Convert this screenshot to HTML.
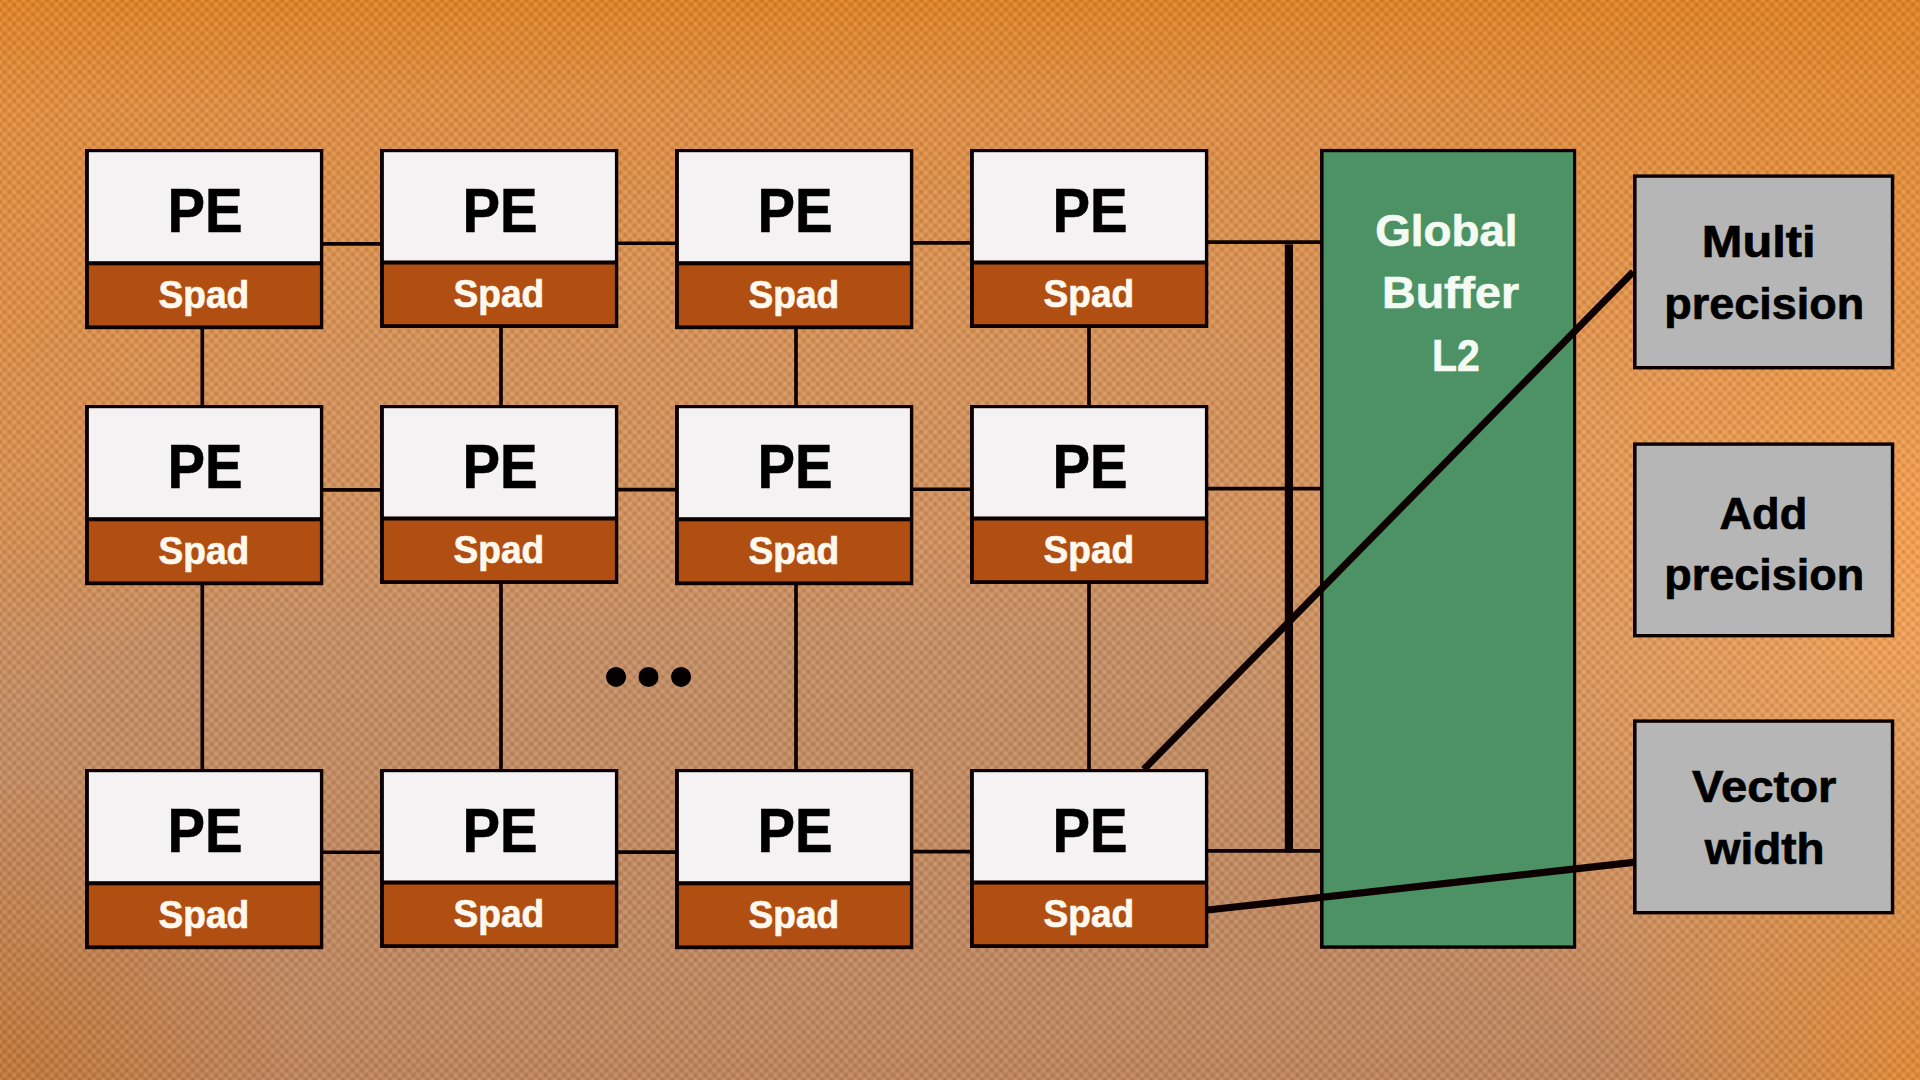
<!DOCTYPE html>
<html lang="en">
<head>
<meta charset="utf-8">
<title>PE array with Global Buffer L2</title>
<style>
html,body{margin:0;padding:0;}
body{width:1920px;height:1080px;overflow:hidden;background:#CC8E5C;}
svg{display:block;position:absolute;left:0;top:0;}
text{font-family:"Liberation Sans", sans-serif;font-weight:700;}
.pe{font-size:63.5px;fill:#000;stroke:#000;stroke-width:0.6px;}
.spad{font-size:39px;fill:#FFF8EE;stroke:#FFF8EE;stroke-width:0.7px;}
.gb{font-size:45px;fill:#F3FBF3;stroke:#F3FBF3;stroke-width:0.7px;}
.lbl{font-size:45px;fill:#000;stroke:#000;stroke-width:0.7px;}
</style>
</head>
<body>
<svg width="1920" height="1080" viewBox="0 0 1920 1080">

<defs>
<linearGradient id="bg" x1="0" y1="0" x2="0" y2="1">
<stop offset="0" stop-color="rgb(222,131,38)"/>
<stop offset="0.096" stop-color="rgb(223,143,68)"/>
<stop offset="0.34" stop-color="rgb(212,147,92)"/>
<stop offset="0.50" stop-color="rgb(207,145,95)"/>
<stop offset="0.60" stop-color="rgb(194,143,104)"/>
<stop offset="0.75" stop-color="rgb(193,139,98)"/>
<stop offset="0.93" stop-color="rgb(189,136,98)"/>
<stop offset="1" stop-color="rgb(188,133,95)"/>
</linearGradient>
<radialGradient id="glowR" gradientUnits="userSpaceOnUse" cx="0" cy="0" r="1" gradientTransform="translate(1990 560) scale(800 560)">
<stop offset="0" stop-color="rgb(252,166,84)" stop-opacity="0.95"/>
<stop offset="1" stop-color="rgb(252,166,84)" stop-opacity="0"/>
</radialGradient>
<radialGradient id="glowTR" gradientUnits="userSpaceOnUse" cx="1920" cy="0" r="600">
<stop offset="0" stop-color="rgb(225,132,35)" stop-opacity="0.6"/>
<stop offset="1" stop-color="rgb(225,132,35)" stop-opacity="0"/>
</radialGradient>
<radialGradient id="glowL" gradientUnits="userSpaceOnUse" cx="0" cy="0" r="1" gradientTransform="translate(-120 330) scale(480 430)">
<stop offset="0" stop-color="rgb(232,138,45)" stop-opacity="0.5"/>
<stop offset="1" stop-color="rgb(232,138,45)" stop-opacity="0"/>
</radialGradient>
<radialGradient id="glowBL" gradientUnits="userSpaceOnUse" cx="0" cy="1080" r="300">
<stop offset="0" stop-color="rgb(193,116,48)" stop-opacity="0.8"/>
<stop offset="1" stop-color="rgb(193,116,48)" stop-opacity="0"/>
</radialGradient>
<radialGradient id="glowBR" gradientUnits="userSpaceOnUse" cx="1920" cy="1080" r="330">
<stop offset="0" stop-color="rgb(230,139,48)" stop-opacity="0.85"/>
<stop offset="1" stop-color="rgb(230,139,48)" stop-opacity="0"/>
</radialGradient>
<radialGradient id="dk">
<stop offset="0" stop-color="rgb(95,35,0)" stop-opacity="0.19"/>
<stop offset="1" stop-color="rgb(95,35,0)" stop-opacity="0"/>
</radialGradient>
<radialGradient id="lt">
<stop offset="0" stop-color="rgb(255,225,190)" stop-opacity="0.17"/>
<stop offset="1" stop-color="rgb(255,225,190)" stop-opacity="0"/>
</radialGradient>
<pattern id="hatch" width="9.4" height="9.6" patternUnits="userSpaceOnUse">
<ellipse rx="3.6" ry="3.0" transform="translate(0 0) rotate(45)" fill="url(#dk)"/>
<ellipse rx="3.6" ry="3.0" transform="translate(9.4 0) rotate(45)" fill="url(#dk)"/>
<ellipse rx="3.6" ry="3.0" transform="translate(0 9.6) rotate(45)" fill="url(#dk)"/>
<ellipse rx="3.6" ry="3.0" transform="translate(9.4 9.6) rotate(45)" fill="url(#dk)"/>
<ellipse rx="3.6" ry="3.0" transform="translate(4.7 4.8) rotate(45)" fill="url(#dk)"/>
<ellipse rx="3.7" ry="3.3" transform="translate(4.7 0) rotate(-45)" fill="url(#lt)"/>
<ellipse rx="3.7" ry="3.3" transform="translate(4.7 9.6) rotate(-45)" fill="url(#lt)"/>
<ellipse rx="3.7" ry="3.3" transform="translate(0 4.8) rotate(-45)" fill="url(#lt)"/>
<ellipse rx="3.7" ry="3.3" transform="translate(9.4 4.8) rotate(-45)" fill="url(#lt)"/>
</pattern>
</defs>
<rect width="1920" height="1080" fill="url(#bg)"/>
<rect width="1920" height="1080" fill="url(#glowR)"/>
<rect width="1920" height="1080" fill="url(#glowTR)"/>
<rect width="1920" height="1080" fill="url(#glowL)"/>
<rect width="1920" height="1080" fill="url(#glowBL)"/>
<rect width="1920" height="1080" fill="url(#glowBR)"/>
<rect width="1920" height="1080" fill="url(#hatch)"/>

<g stroke="#0d0000" stroke-width="3.7" fill="none">
<line x1="323" y1="243.85" x2="380" y2="243.85"/>
<line x1="618" y1="243.25" x2="675" y2="243.25"/>
<line x1="913" y1="242.85" x2="970" y2="242.85"/>
<line x1="1208" y1="242.05" x2="1321" y2="242.05"/>
<line x1="323" y1="489.85" x2="380" y2="489.85"/>
<line x1="618" y1="489.55" x2="675" y2="489.55"/>
<line x1="913" y1="489.25" x2="970" y2="489.25"/>
<line x1="1208" y1="488.55" x2="1321" y2="488.55"/>
<line x1="323" y1="852.25" x2="380" y2="852.25"/>
<line x1="618" y1="852.05" x2="675" y2="852.05"/>
<line x1="913" y1="851.55" x2="970" y2="851.55"/>
<line x1="1208" y1="850.95" x2="1321" y2="850.95"/>
<line x1="202.3" y1="329" x2="202.3" y2="405"/>
<line x1="501" y1="328" x2="501" y2="405"/>
<line x1="796" y1="329" x2="796" y2="405"/>
<line x1="1089" y1="328" x2="1089" y2="405"/>
<line x1="202.3" y1="585" x2="202.3" y2="769"/>
<line x1="501" y1="584" x2="501" y2="769"/>
<line x1="796" y1="585" x2="796" y2="769"/>
<line x1="1089" y1="584" x2="1089" y2="769"/>
</g>
<rect x="1284.8" y="244.3" width="8.2" height="608.2" fill="#0d0000"/>
<g>
<rect x="85" y="149" width="238.3" height="180.20" fill="#0d0000"/>
<rect x="88.9" y="152.20" width="231" height="109.00" fill="#F4F2F3"/>
<rect x="88.9" y="265.30" width="231" height="60.10" fill="#B14E11"/>
<text class="pe" x="167.45" y="232.00" textLength="75.14" lengthAdjust="spacingAndGlyphs">PE</text>
<text class="spad" x="158.60" y="307.80" textLength="90.68" lengthAdjust="spacingAndGlyphs">Spad</text>
</g>
<g>
<rect x="380" y="149" width="238.3" height="179.00" fill="#0d0000"/>
<rect x="383.9" y="152.20" width="231" height="108.25" fill="#F4F2F3"/>
<rect x="383.9" y="264.53" width="231" height="59.67" fill="#B14E11"/>
<text class="pe" x="462.45" y="232.00" textLength="75.14" lengthAdjust="spacingAndGlyphs">PE</text>
<text class="spad" x="453.60" y="307.10" textLength="90.68" lengthAdjust="spacingAndGlyphs">Spad</text>
</g>
<g>
<rect x="675" y="149" width="238.3" height="180.20" fill="#0d0000"/>
<rect x="678.9" y="152.20" width="231" height="109.00" fill="#F4F2F3"/>
<rect x="678.9" y="265.30" width="231" height="60.10" fill="#B14E11"/>
<text class="pe" x="757.45" y="232.00" textLength="75.14" lengthAdjust="spacingAndGlyphs">PE</text>
<text class="spad" x="748.60" y="307.80" textLength="90.68" lengthAdjust="spacingAndGlyphs">Spad</text>
</g>
<g>
<rect x="970" y="149" width="238.3" height="179.00" fill="#0d0000"/>
<rect x="973.9" y="152.20" width="231" height="108.25" fill="#F4F2F3"/>
<rect x="973.9" y="264.53" width="231" height="59.67" fill="#B14E11"/>
<text class="pe" x="1052.45" y="232.00" textLength="75.14" lengthAdjust="spacingAndGlyphs">PE</text>
<text class="spad" x="1043.60" y="307.10" textLength="90.68" lengthAdjust="spacingAndGlyphs">Spad</text>
</g>
<g>
<rect x="85" y="405" width="238.3" height="180.20" fill="#0d0000"/>
<rect x="88.9" y="408.20" width="231" height="109.00" fill="#F4F2F3"/>
<rect x="88.9" y="521.30" width="231" height="60.10" fill="#B14E11"/>
<text class="pe" x="167.45" y="488.00" textLength="75.14" lengthAdjust="spacingAndGlyphs">PE</text>
<text class="spad" x="158.60" y="563.80" textLength="90.68" lengthAdjust="spacingAndGlyphs">Spad</text>
</g>
<g>
<rect x="380" y="405" width="238.3" height="179.00" fill="#0d0000"/>
<rect x="383.9" y="408.20" width="231" height="108.25" fill="#F4F2F3"/>
<rect x="383.9" y="520.53" width="231" height="59.67" fill="#B14E11"/>
<text class="pe" x="462.45" y="488.00" textLength="75.14" lengthAdjust="spacingAndGlyphs">PE</text>
<text class="spad" x="453.60" y="563.10" textLength="90.68" lengthAdjust="spacingAndGlyphs">Spad</text>
</g>
<g>
<rect x="675" y="405" width="238.3" height="180.20" fill="#0d0000"/>
<rect x="678.9" y="408.20" width="231" height="109.00" fill="#F4F2F3"/>
<rect x="678.9" y="521.30" width="231" height="60.10" fill="#B14E11"/>
<text class="pe" x="757.45" y="488.00" textLength="75.14" lengthAdjust="spacingAndGlyphs">PE</text>
<text class="spad" x="748.60" y="563.80" textLength="90.68" lengthAdjust="spacingAndGlyphs">Spad</text>
</g>
<g>
<rect x="970" y="405" width="238.3" height="179.00" fill="#0d0000"/>
<rect x="973.9" y="408.20" width="231" height="108.25" fill="#F4F2F3"/>
<rect x="973.9" y="520.53" width="231" height="59.67" fill="#B14E11"/>
<text class="pe" x="1052.45" y="488.00" textLength="75.14" lengthAdjust="spacingAndGlyphs">PE</text>
<text class="spad" x="1043.60" y="563.10" textLength="90.68" lengthAdjust="spacingAndGlyphs">Spad</text>
</g>
<g>
<rect x="85" y="769" width="238.3" height="180.20" fill="#0d0000"/>
<rect x="88.9" y="772.20" width="231" height="109.00" fill="#F4F2F3"/>
<rect x="88.9" y="885.30" width="231" height="60.10" fill="#B14E11"/>
<text class="pe" x="167.45" y="852.00" textLength="75.14" lengthAdjust="spacingAndGlyphs">PE</text>
<text class="spad" x="158.60" y="927.80" textLength="90.68" lengthAdjust="spacingAndGlyphs">Spad</text>
</g>
<g>
<rect x="380" y="769" width="238.3" height="179.00" fill="#0d0000"/>
<rect x="383.9" y="772.20" width="231" height="108.25" fill="#F4F2F3"/>
<rect x="383.9" y="884.53" width="231" height="59.67" fill="#B14E11"/>
<text class="pe" x="462.45" y="852.00" textLength="75.14" lengthAdjust="spacingAndGlyphs">PE</text>
<text class="spad" x="453.60" y="927.10" textLength="90.68" lengthAdjust="spacingAndGlyphs">Spad</text>
</g>
<g>
<rect x="675" y="769" width="238.3" height="180.20" fill="#0d0000"/>
<rect x="678.9" y="772.20" width="231" height="109.00" fill="#F4F2F3"/>
<rect x="678.9" y="885.30" width="231" height="60.10" fill="#B14E11"/>
<text class="pe" x="757.45" y="852.00" textLength="75.14" lengthAdjust="spacingAndGlyphs">PE</text>
<text class="spad" x="748.60" y="927.80" textLength="90.68" lengthAdjust="spacingAndGlyphs">Spad</text>
</g>
<g>
<rect x="970" y="769" width="238.3" height="179.00" fill="#0d0000"/>
<rect x="973.9" y="772.20" width="231" height="108.25" fill="#F4F2F3"/>
<rect x="973.9" y="884.53" width="231" height="59.67" fill="#B14E11"/>
<text class="pe" x="1052.45" y="852.00" textLength="75.14" lengthAdjust="spacingAndGlyphs">PE</text>
<text class="spad" x="1043.60" y="927.10" textLength="90.68" lengthAdjust="spacingAndGlyphs">Spad</text>
</g>
<circle cx="616.05" cy="676.9" r="10" fill="#050000"/>
<circle cx="648.5" cy="676.9" r="10" fill="#050000"/>
<circle cx="681.05" cy="676.9" r="10" fill="#050000"/>
<rect x="1320" y="148.9" width="256.2" height="799.9" fill="#0d0000"/>
<rect x="1323.6" y="152.2" width="249.4" height="793.2" fill="#4C9264"/>
<text class="gb" x="1375.23" y="245.90" textLength="142.36" lengthAdjust="spacingAndGlyphs">Global</text>
<text class="gb" x="1382.05" y="308.00" textLength="137.03" lengthAdjust="spacingAndGlyphs">Buffer</text>
<text class="gb" x="1431.92" y="371.00" textLength="47.76" lengthAdjust="spacingAndGlyphs">L2</text>
<rect x="1633" y="174.4" width="261.3" height="195" fill="#0d0000"/>
<rect x="1636.6" y="177.8" width="254.2" height="188.2" fill="#B6B6B6"/>
<text class="lbl" x="1701.80" y="256.90" textLength="113.76" lengthAdjust="spacingAndGlyphs">Multi</text>
<text class="lbl" x="1664.35" y="318.75" textLength="199.78" lengthAdjust="spacingAndGlyphs">precision</text>
<rect x="1633" y="442.4" width="261.3" height="195" fill="#0d0000"/>
<rect x="1636.6" y="445.8" width="254.2" height="188.2" fill="#B6B6B6"/>
<text class="lbl" x="1719.45" y="528.90" textLength="87.80" lengthAdjust="spacingAndGlyphs">Add</text>
<text class="lbl" x="1664.35" y="590.40" textLength="199.78" lengthAdjust="spacingAndGlyphs">precision</text>
<rect x="1633" y="719.4" width="261.3" height="195" fill="#0d0000"/>
<rect x="1636.6" y="722.8" width="254.2" height="188.2" fill="#B6B6B6"/>
<text class="lbl" x="1692.05" y="801.90" textLength="144.34" lengthAdjust="spacingAndGlyphs">Vector</text>
<text class="lbl" x="1704.77" y="863.75" textLength="119.72" lengthAdjust="spacingAndGlyphs">width</text>
<g stroke="#0d0000" stroke-width="7.1" fill="none">
<line x1="1143.7" y1="769.5" x2="1633.2" y2="271.8"/>
<line x1="1207.5" y1="910.05" x2="1633.5" y2="862.4"/>
</g>
</svg>
</body>
</html>
